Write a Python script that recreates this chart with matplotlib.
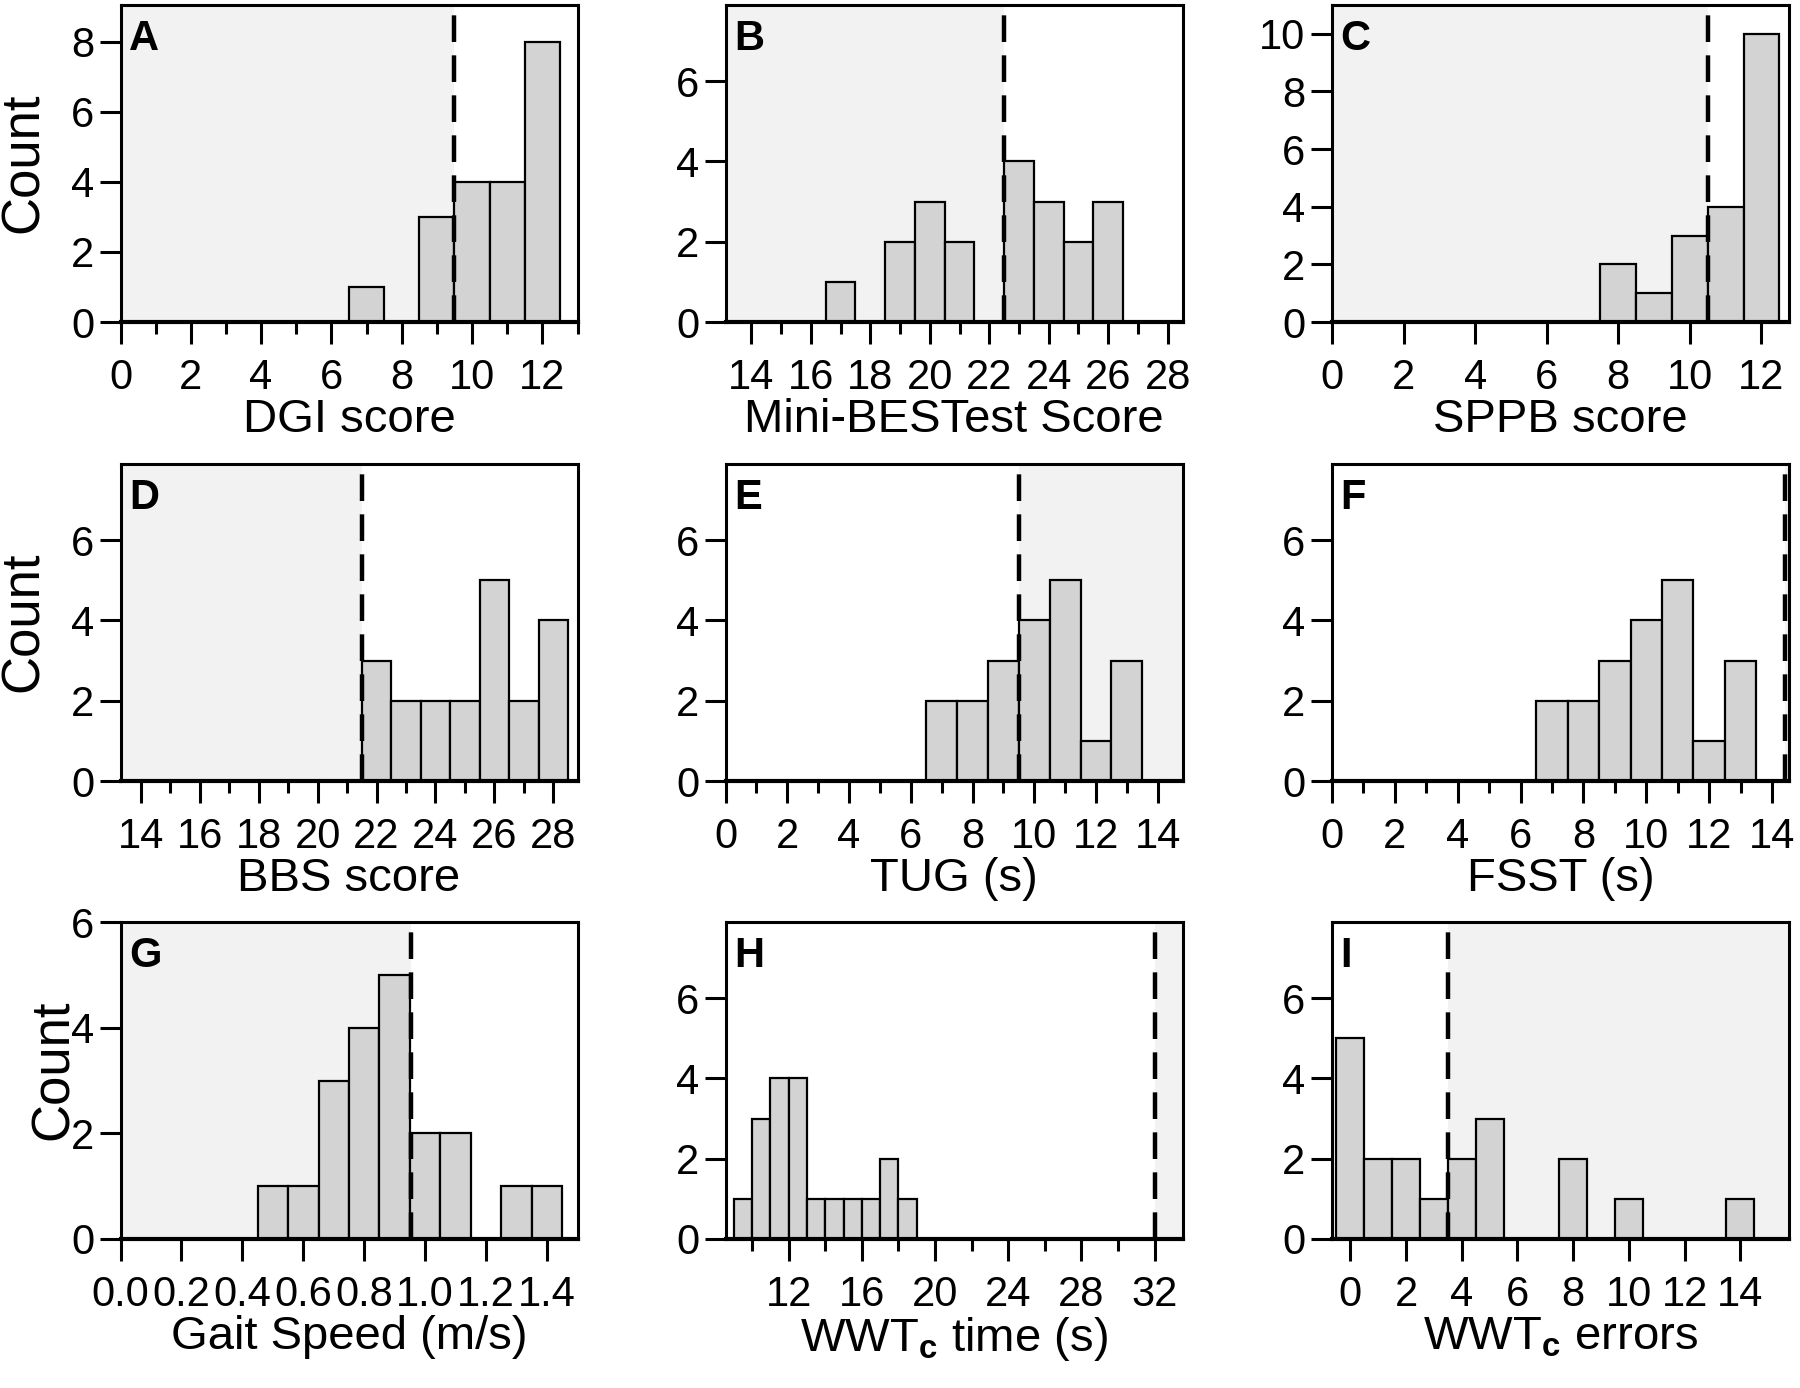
import matplotlib.pyplot as plt
from matplotlib.ticker import MultipleLocator, FixedLocator, NullLocator

plt.rcParams['font.family'] = ['Liberation Sans', 'DejaVu Sans']
plt.rcParams['mathtext.fontset'] = 'custom'
plt.rcParams['mathtext.rm'] = 'Liberation Sans'
plt.rcParams['mathtext.bf'] = 'Liberation Sans:bold'

# histogram data: bin centres and counts
dgi_bins = [7, 9, 10, 11, 12]
dgi_counts = [1, 3, 4, 4, 8]
mini_bins = [17, 19, 20, 21, 23, 24, 25, 26]
mini_counts = [1, 2, 3, 2, 4, 3, 2, 3]
sppb_bins = [8, 9, 10, 11, 12]
sppb_counts = [2, 1, 3, 4, 10]
bbs_bins = [22, 23, 24, 25, 26, 27, 28]
bbs_counts = [3, 2, 2, 2, 5, 2, 4]
tug_bins = [7, 8, 9, 10, 11, 12, 13]
tug_counts = [2, 2, 3, 4, 5, 1, 3]
fsst_bins = [7, 8, 9, 10, 11, 12, 13]
fsst_counts = [2, 2, 3, 4, 5, 1, 3]
gait_bins = [0.5, 0.6, 0.7, 0.8, 0.9, 1.0, 1.1, 1.3, 1.4]
gait_counts = [1, 1, 3, 4, 5, 2, 2, 1, 1]
wwt_time_bins = [9.5, 10.5, 11.5, 12.5, 13.5, 14.5, 15.5, 16.5, 17.5, 18.5]
wwt_time_counts = [1, 3, 4, 4, 1, 1, 1, 1, 2, 1]
wwt_err_bins = [0, 1, 2, 3, 4, 5, 8, 10, 14]
wwt_err_counts = [5, 2, 2, 1, 2, 3, 2, 1, 1]

# cut-off scores (dashed lines)
cutoffs = [9.5, 22.5, 10.5, 21.5, 9.5, 14.4, 0.955, 32, 3.5]

panels = [
    # letter, xlabel, bins, counts, width, cutoff, shade side, xlim, ylim, major, minor, yticks
    ('A', 'DGI score', dgi_bins, dgi_counts, 1, cutoffs[0], 'left', (0, 13), 9.05, 2, 1, [0, 2, 4, 6, 8]),
    ('B', 'Mini-BESTest Score', mini_bins, mini_counts, 1, cutoffs[1], 'left', (13.13, 28.5), 7.9, 2, 1, [0, 2, 4, 6]),
    ('C', 'SPPB score', sppb_bins, sppb_counts, 1, cutoffs[2], 'left', (0, 12.77), 11.0, 2, None, [0, 2, 4, 6, 8, 10]),
    ('D', 'BBS score', bbs_bins, bbs_counts, 1, cutoffs[3], 'left', (13.31, 28.82), 7.9, 2, 1, [0, 2, 4, 6]),
    ('E', 'TUG (s)', tug_bins, tug_counts, 1, cutoffs[4], 'right', (0, 14.8), 7.9, 2, 1, [0, 2, 4, 6]),
    ('F', 'FSST (s)', fsst_bins, fsst_counts, 1, cutoffs[5], 'right', (0, 14.54), 7.9, 2, 1, [0, 2, 4, 6]),
    ('G', 'Gait Speed (m/s)', gait_bins, gait_counts, 0.1, cutoffs[6], 'left', (0, 1.5), 6.0, 0.2, None, [0, 2, 4, 6]),
    ('H', r'WWT$_\mathbf{c}$ time (s)', wwt_time_bins, wwt_time_counts, 1, cutoffs[7], 'right', (8.55, 33.53), 7.9, 4, 'h', [0, 2, 4, 6]),
    ('I', r'WWT$_\mathbf{c}$ errors', wwt_err_bins, wwt_err_counts, 1, cutoffs[8], 'right', (-0.66, 15.75), 7.9, 2, None, [0, 2, 4, 6]),
]

fig = plt.figure(figsize=(18, 13.88), dpi=100)

W, H = 1800, 1388
col_left = [120.5, 725.5, 1332]
row_bottom = [322, 781, 1239]
ax_w, ax_h = 457, 317

for i, (letter, xlabel, bins, counts, width, cut, side, xlim, ytop, major, minor, yticks) in enumerate(panels):
    r, c = divmod(i, 3)
    ax = fig.add_axes([col_left[c] / W, 1 - row_bottom[r] / H, ax_w / W, ax_h / H])
    ax.set_xlim(*xlim)
    ax.set_ylim(0, ytop)

    if side == 'left':
        ax.axvspan(xlim[0], cut, color='#f2f2f2', zorder=0, lw=0)
    else:
        ax.axvspan(cut, xlim[1], color='#f2f2f2', zorder=0, lw=0)

    ax.bar(bins, counts, width=width, color='#d3d3d3', edgecolor='black', linewidth=1.6, zorder=2)
    ax.axvline(cut, color='black', lw=3.2, ls=(0, (6, 3)), zorder=3)

    if letter == 'H':
        ax.xaxis.set_major_locator(FixedLocator([12, 16, 20, 24, 28, 32]))
        ax.xaxis.set_minor_locator(FixedLocator([10, 14, 18, 22, 26, 30]))
    else:
        ax.xaxis.set_major_locator(MultipleLocator(major))
        if minor:
            ax.xaxis.set_minor_locator(MultipleLocator(minor))
        else:
            ax.xaxis.set_minor_locator(NullLocator())
    if letter == 'G':
        ax.xaxis.set_major_formatter(plt.FuncFormatter(lambda v, p: '%.1f' % v))
    ax.set_yticks(yticks)

    ax.tick_params(axis='x', which='major', direction='out', length=16, width=2.2, labelsize=30, pad=10)
    ax.tick_params(axis='x', which='minor', direction='out', length=8.5, width=2.2)
    ax.tick_params(axis='y', which='major', direction='out', length=15, width=2.2, labelsize=30, pad=4)

    for s in ['top', 'right', 'left']:
        ax.spines[s].set_linewidth(2.2)
    ax.spines['bottom'].set_linewidth(3)

    ax.set_xlabel(xlabel, fontsize=34, labelpad=0)
    ax.annotate(letter, xy=(0, 1), xycoords='axes fraction', xytext=(6, -10),
                textcoords='offset points', ha='left', va='top',
                fontsize=30, fontweight='bold')

# "Count" labels (the one in panel G sits on top of the tick labels)
fig.text(24 / W, 1 - 163 / H, 'Count', rotation=90, fontsize=38, ha='center', va='center')
fig.text(24 / W, 1 - 622 / H, 'Count', rotation=90, fontsize=38, ha='center', va='center')
fig.text(54 / W, 1 - 1070 / H, 'Count', rotation=90, fontsize=38, ha='center', va='center')

fig.savefig('out.png', dpi=100)
